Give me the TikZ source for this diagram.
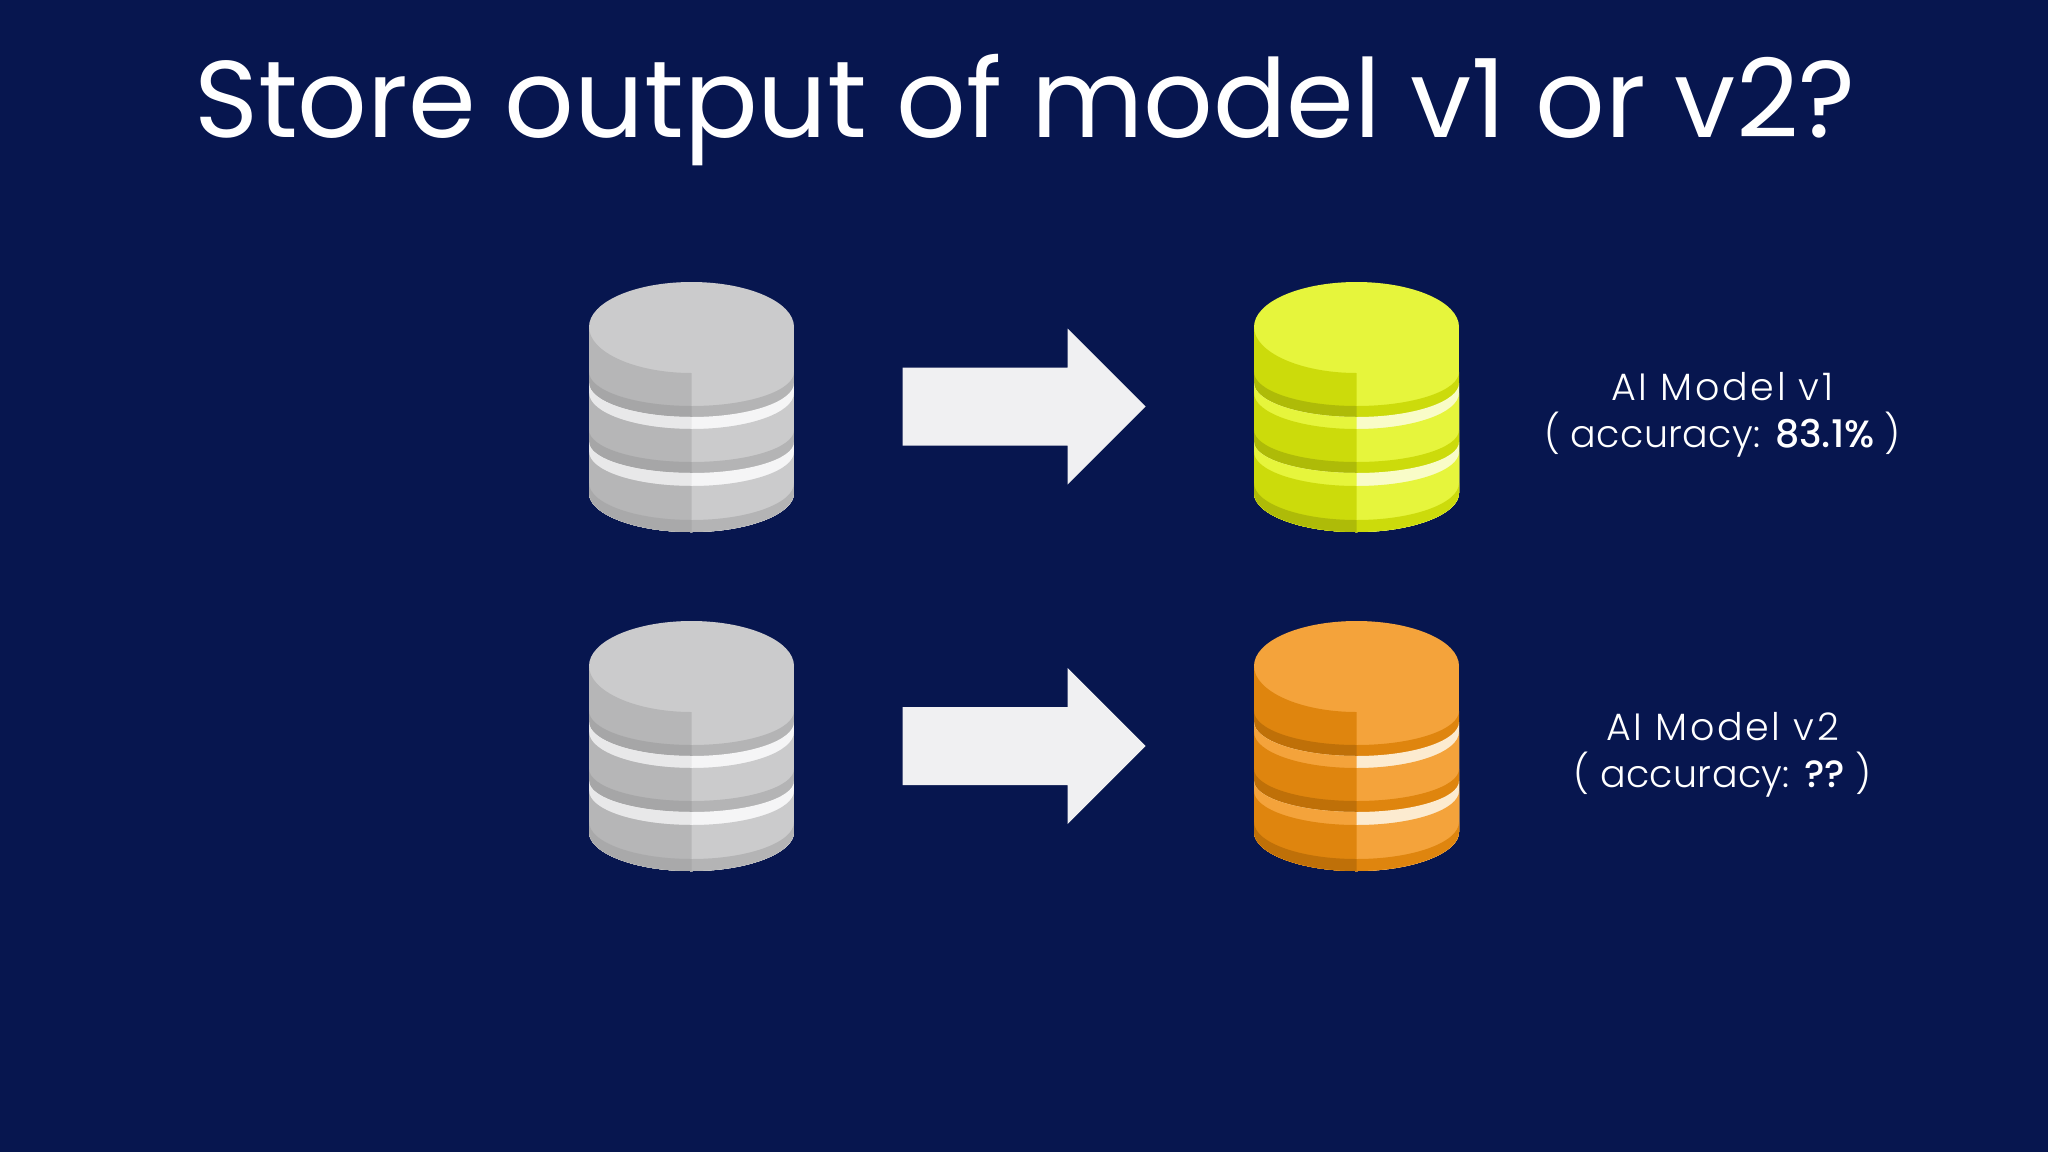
\documentclass[tikz,border=0pt]{standalone}
\usepackage{fontspec}
\setmainfont{Poppins}
\newfontfamily\lightfont{Poppins Light}
\newfontfamily\medfont{Poppins Medium}
\definecolor{bgnavy}{HTML}{07164F}
\definecolor{arrowgrey}{HTML}{F0F0F2}
\newcommand{\lay}[4]{%
  \fill[#4] (-102.5,#1) .. controls (-102.5,{#1+0.5523*(#2-#1)}) and (-56.6,#2) .. (0,#2) .. controls (56.6,#2) and (102.5,{#1+0.5523*(#2-#1)}) .. (102.5,#1) -- (102.5,260) -- (-102.5,260) -- cycle;
  \fill[#3] (-102.5,#1) .. controls (-102.5,{#1+0.5523*(#2-#1)}) and (-56.6,#2) .. (0,#2) -- (0,260) -- (-102.5,260) -- cycle;}
\newcommand{\dbcyl}[2]{%
  \begin{scope}[shift={(#1,#2)}]
    \begin{scope}
      \clip (-102.5,0) -- (-102.5,211) .. controls (-102.5,232) and (-56.6,250) .. (0,250) .. controls (56.6,250) and (102.5,232) .. (102.5,211) -- (102.5,0) -- cycle;
      \fill[cT] (-102.5,0) rectangle (102.5,260);
      \fill[cL] (-102.5,45) .. controls (-102.5,70) and (-56.6,91) .. (0,91) -- (0,125) -- (-102.5,125) -- cycle;
      \lay{90}{124}{cDL}{cDR}
      \lay{101}{135}{cWL}{cWR}
      \lay{111}{147}{cL}{cT}
      \lay{148}{180}{cDL}{cDR}
      \lay{160}{191}{cWL}{cWR}
      \lay{170}{204}{cL}{cT}
      \lay{201}{238}{cRL}{cDR}
    \end{scope}
    \fill[bgnavy] (-103.5,-1) rectangle (103.5,45) ;
    \fill[cT] (-102.5,45) .. controls (-102.5,20) and (-56.6,0) .. (0,0) .. controls (56.6,0) and (102.5,20) .. (102.5,45) -- cycle;
  \end{scope}}
\newcommand{\setcyl}[7]{%
  \definecolor{cT}{HTML}{#1}\definecolor{cL}{HTML}{#2}\definecolor{cDL}{HTML}{#3}\definecolor{cDR}{HTML}{#4}%
  \definecolor{cWL}{HTML}{#5}\definecolor{cWR}{HTML}{#6}\definecolor{cRL}{HTML}{#7}}
\newcommand{\lsp}[1]{\addfontfeature{LetterSpace=#1}}
\tikzset{
  labeltext/.style={text=white,font=\lightfont\fontsize{38}{47}\selectfont,align=center,inner sep=0pt},
  titletext/.style={text=white,font=\fontsize{109}{120}\selectfont,inner sep=0pt,anchor=base},
  blockarrow/.style={fill=arrowgrey}
}
\begin{document}
\begin{tikzpicture}[x=1pt,y=-1pt]
\useasboundingbox (0,0) rectangle (2048,1152);
\fill[bgnavy] (0,0) rectangle (2048,1152);
\node[titletext] (title) at (1025,137) {Store output of model v1 or v2?};
\setcyl{CBCBCC}{B6B6B7}{A6A6A7}{B4B4B5}{E8E8E9}{F5F5F6}{A9A9AA}
\dbcyl{691.5}{282}
\dbcyl{691.5}{621}
\setcyl{E6F53C}{CCDB0B}{AEBB08}{CCDB0B}{E6F53C}{F9FCC8}{AEBB08}
\dbcyl{1356.5}{282}
\setcyl{F4A33B}{DF850E}{BF7008}{DF850E}{F4A33B}{FCEBD0}{BF7008}
\dbcyl{1356.5}{621}
\foreach \n/\yy in {a/406.5,b/746}{
  \coordinate (arrow\n) at (902.5,\yy);
  \fill[blockarrow] (arrow\n) ++(0,-39) -- ++(165,0) -- ++(0,-39) -- ++(78,78) -- ++(-78,78) -- ++(0,-39) -- ++(-165,0) -- cycle;
}
\node[labeltext] (labela) at (1722.5,414.5) {{\lsp{7}AI Model v1}\\{\lsp{1}( accuracy: }{\medfont\fontsize{38}{47}\selectfont 83.1\%}~{\lsp{1})}};
\node[labeltext] (labelb) at (1722.5,754.5) {{\lsp{7}AI Model v2}\\{\lsp{1}( accuracy: }{\medfont\fontsize{38}{47}\selectfont ??}~{\lsp{1})}};
\end{tikzpicture}
\end{document}
